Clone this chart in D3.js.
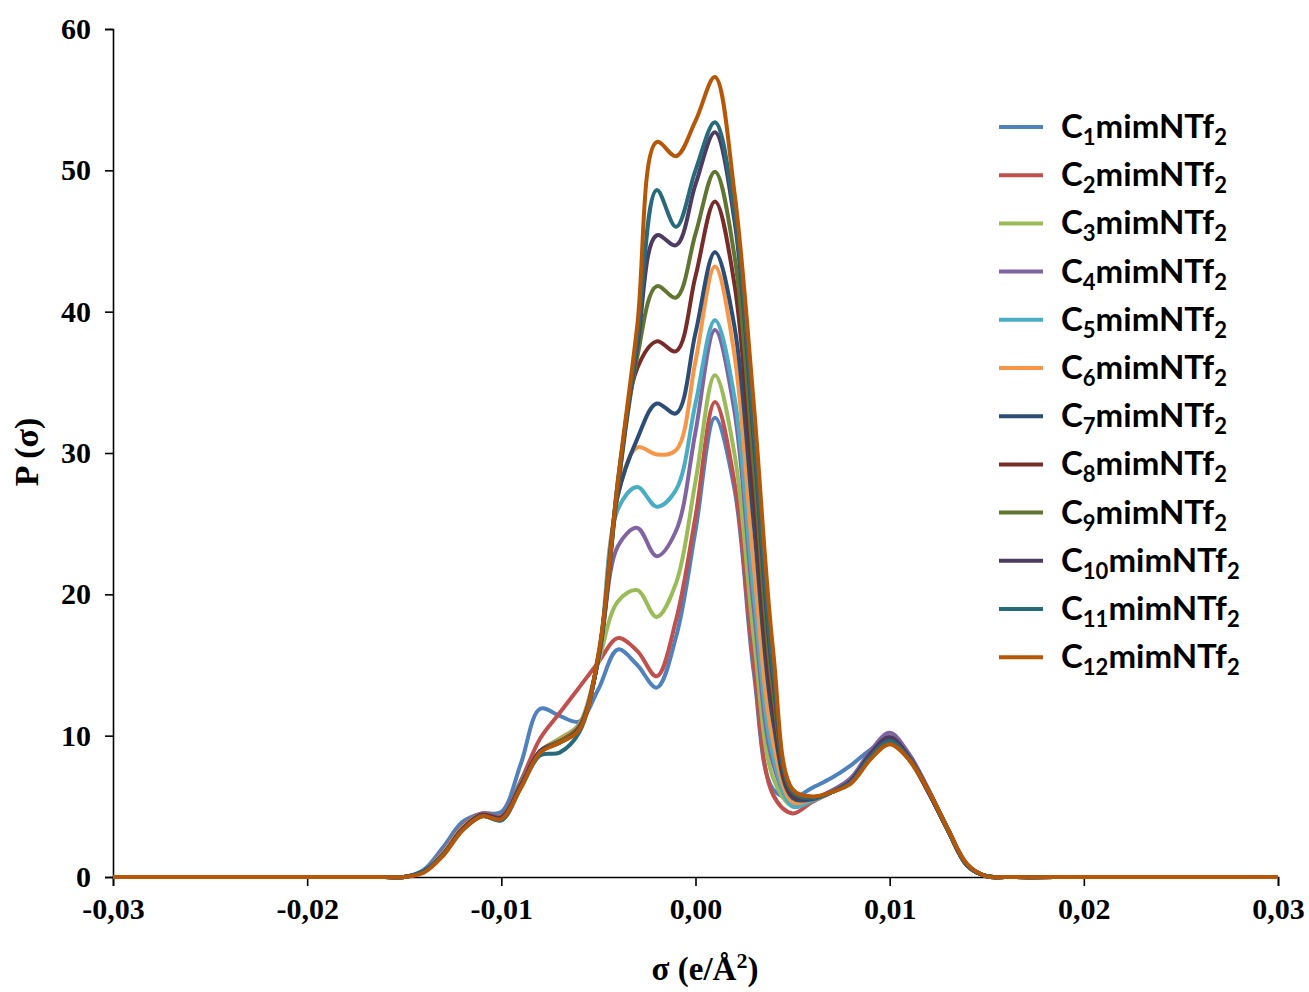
<!doctype html>
<html>
<head>
<meta charset="utf-8">
<title>Sigma profiles</title>
<script src="https://cdn.jsdelivr.net/npm/d3@7"></script>
<style>
  body { margin: 0; background: #fff; }
</style>
</head>
<body>
<script>

    // sigma grid (e/Å²)
    var sigma = [-0.03, -0.025, -0.02, -0.016,
        -0.015, -0.014, -0.013, -0.012, -0.011, -0.010, -0.009, -0.008, -0.007, -0.006,
        -0.005, -0.004, -0.003, -0.002, -0.001, 0.000, 0.001, 0.002, 0.003, 0.004,
        0.005, 0.006, 0.007, 0.008, 0.009, 0.010, 0.011, 0.012, 0.013, 0.014, 0.015,
        0.016, 0.02, 0.025, 0.03];

    var c1  = [0, 0, 0, 0, 0, 0.5, 2.1, 3.9, 4.5, 4.6, 8.0, 11.9, 11.4, 11.0, 13.3, 16.1, 15.0, 13.4, 17.0, 24.5, 32.5, 27.5, 14.5, 6.2, 5.6, 6.3, 7.0, 7.9, 9.0, 9.8, 8.4, 6.1, 3.3, 0.8, 0.05, 0, 0, 0, 0];
    var c2  = [0, 0, 0, 0, 0, 0.4, 1.8, 3.6, 4.5, 4.3, 6.8, 9.8, 11.6, 13.4, 15.2, 16.9, 16.0, 14.2, 18.2, 25.5, 33.6, 28.0, 15.0, 5.8, 4.5, 5.3, 6.0, 6.8, 8.6, 9.6, 8.3, 6.0, 3.3, 0.8, 0.05, 0, 0, 0, 0];
    var c3  = [0, 0, 0, 0, 0, 0.4, 1.7, 3.5, 4.4, 4.2, 6.6, 8.9, 9.8, 10.8, 15.2, 19.5, 20.3, 18.4, 20.8, 28.0, 35.5, 30.0, 17.0, 7.0, 5.0, 5.4, 6.0, 6.8, 8.6, 9.7, 8.3, 6.0, 3.3, 0.8, 0.05, 0, 0, 0, 0];
    var c4  = [0, 0, 0, 0, 0, 0.4, 1.7, 3.5, 4.4, 4.2, 6.6, 8.9, 9.7, 10.7, 15.4, 23.4, 24.7, 22.7, 24.5, 31.5, 38.7, 33.0, 19.0, 8.0, 5.2, 5.5, 6.1, 7.0, 8.9, 10.2, 8.7, 6.2, 3.4, 0.9, 0.05, 0, 0, 0, 0];
    var c5  = [0, 0, 0, 0, 0, 0.4, 1.7, 3.5, 4.4, 4.2, 6.6, 8.9, 9.7, 10.7, 15.5, 26.0, 27.6, 26.2, 27.4, 33.5, 39.4, 34.0, 20.0, 8.5, 5.0, 5.4, 6.0, 6.8, 8.6, 9.7, 8.3, 6.0, 3.3, 0.8, 0.05, 0, 0, 0, 0];
    var c6  = [0, 0, 0, 0, 0, 0.4, 1.7, 3.5, 4.4, 4.2, 6.5, 8.9, 9.7, 10.7, 15.5, 27.0, 30.4, 29.9, 30.2, 36.5, 43.2, 37.0, 22.0, 9.5, 5.3, 5.5, 6.0, 6.8, 8.6, 9.6, 8.3, 6.0, 3.3, 0.8, 0.05, 0, 0, 0, 0];
    var c7  = [0, 0, 0, 0, 0, 0.4, 1.6, 3.4, 4.4, 4.2, 6.5, 8.9, 9.6, 10.6, 15.5, 27.0, 31.0, 33.5, 32.8, 38.5, 44.2, 39.0, 25.0, 11.0, 5.6, 5.5, 6.0, 6.8, 8.6, 9.7, 8.4, 6.0, 3.3, 0.8, 0.05, 0, 0, 0, 0];
    var c8  = [0, 0, 0, 0, 0, 0.4, 1.6, 3.4, 4.4, 4.2, 6.5, 8.9, 9.6, 10.6, 15.5, 27.5, 36.0, 37.9, 37.2, 42.5, 47.8, 42.0, 27.0, 12.0, 5.8, 5.6, 6.0, 6.8, 8.6, 9.7, 8.4, 6.0, 3.3, 0.8, 0.05, 0, 0, 0, 0];
    var c9  = [0, 0, 0, 0, 0, 0.4, 1.6, 3.4, 4.3, 4.1, 6.4, 8.9, 9.6, 10.6, 15.5, 27.5, 36.8, 41.8, 41.0, 45.5, 49.9, 44.0, 29.0, 13.0, 6.0, 5.6, 6.0, 6.7, 8.5, 9.6, 8.4, 6.1, 3.3, 0.8, 0.05, 0, 0, 0, 0];
    var c10 = [0, 0, 0, 0, 0, 0.4, 1.6, 3.4, 4.4, 4.2, 6.4, 8.9, 9.5, 10.5, 15.6, 27.8, 37.5, 45.4, 44.7, 49.0, 52.7, 46.5, 31.0, 14.0, 6.0, 5.6, 6.0, 6.8, 8.7, 9.9, 8.5, 6.1, 3.4, 0.8, 0.05, 0, 0, 0, 0];
    var c11 = [0, 0, 0, 0, 0, 0.4, 1.6, 3.3, 4.3, 4.0, 6.3, 8.6, 8.8, 10.2, 15.6, 28.0, 38.0, 48.6, 46.0, 50.0, 53.4, 47.0, 31.5, 14.5, 6.0, 5.6, 6.0, 6.7, 8.5, 9.6, 8.4, 6.1, 3.4, 0.8, 0.05, 0, 0, 0, 0];
    var c12 = [0, 0, 0, 0, 0, 0.3, 1.5, 3.3, 4.3, 4.1, 6.3, 8.8, 9.5, 10.4, 15.8, 28.0, 39.0, 52.0, 51.0, 53.5, 56.6, 48.5, 33.5, 16.0, 6.2, 5.7, 6.0, 6.6, 8.3, 9.4, 8.3, 6.1, 3.4, 0.9, 0.05, 0, 0, 0, 0];

    var seriesValues = [c1, c2, c3, c4, c5, c6, c7, c8, c9, c10, c11, c12];
    var seriesNums = ["1", "2", "3", "4", "5", "6", "7", "8", "9", "10", "11", "12"];
    var colors = ["#4F81BD", "#C0504D", "#9BBB59", "#8064A2", "#4BACC6", "#F79646",
                  "#2C4D75", "#772C2A", "#5F7530", "#4D3B62", "#276A7C", "#B65708"];

    var xTicks = [-0.03, -0.02, -0.01, 0, 0.01, 0.02, 0.03];
    var yTicks = [0, 10, 20, 30, 40, 50, 60];

    var width = 1309, height = 992;
    var plotLeft = 113, plotRight = 1278, plotTop = 29, plotBottom = 877;

    var svg = d3.select("body").append("svg")
        .attr("width", width)
        .attr("height", height);

    var x = d3.scaleLinear().domain([-0.03, 0.03]).range([plotLeft, plotRight]);
    var y = d3.scaleLinear().domain([0, 60]).range([plotBottom, plotTop]);

    var tickFont = "'Liberation Serif', 'Times New Roman', serif";

    // axes
    var xAxis = svg.append("g")
        .attr("transform", "translate(0," + plotBottom + ")")
        .call(d3.axisBottom(x).tickValues(xTicks).tickSizeOuter(0).tickSize(9).tickPadding(12)
            .tickFormat(function(d) { return d3.format(".2f")(d).replace(".", ",").replace("−", "-"); }));

    var yAxis = svg.append("g")
        .attr("transform", "translate(" + plotLeft + ",0)")
        .call(d3.axisLeft(y).tickValues(yTicks).tickSizeOuter(0).tickSize(8).tickPadding(14));

    [xAxis, yAxis].forEach(function(g) {
        g.select(".domain").attr("stroke", "#000").attr("stroke-width", 1.6);
        g.selectAll(".tick line").attr("stroke", "#000").attr("stroke-width", 1.6);
        g.selectAll(".tick text")
            .attr("fill", "#000")
            .attr("font-family", tickFont)
            .attr("font-weight", "bold")
            .attr("font-size", "30px");
    });

    // axis titles
    var xTitle = svg.append("text")
        .attr("x", 705)
        .attr("y", 980)
        .attr("text-anchor", "middle")
        .attr("font-family", tickFont)
        .attr("font-weight", "bold")
        .attr("font-size", "33px");
    xTitle.append("tspan").text("σ (e/Å");
    xTitle.append("tspan").attr("dy", -12).attr("font-size", "22px").text("2");
    xTitle.append("tspan").attr("dy", 12).text(")");

    svg.append("text")
        .attr("transform", "translate(38,452) rotate(-90)")
        .attr("text-anchor", "middle")
        .attr("font-family", tickFont)
        .attr("font-weight", "bold")
        .attr("font-size", "34px")
        .text("P (σ)");

    // curves
    var line = d3.line()
        .x(function(d, i) { return x(sigma[i]); })
        .y(function(d) { return y(d); })
        .curve(d3.curveCatmullRom.alpha(0.5));

    svg.append("g").selectAll("path")
        .data(seriesValues)
        .join("path")
        .attr("d", line)
        .attr("fill", "none")
        .attr("stroke", function(d, i) { return colors[i]; })
        .attr("stroke-width", 4)
        .attr("stroke-linejoin", "round");

    // legend
    var legendFont = "Lato, 'Open Sans', sans-serif";
    var legend = svg.append("g");
    seriesNums.forEach(function(n, i) {
        var ly = 127 + i * 48.2;
        legend.append("line")
            .attr("x1", 999).attr("x2", 1043)
            .attr("y1", ly).attr("y2", ly)
            .attr("stroke", colors[i])
            .attr("stroke-width", 4);
        var t = legend.append("text")
            .attr("x", 1061)
            .attr("y", ly + 11)
            .attr("font-family", legendFont)
            .attr("font-weight", "bold")
            .attr("font-size", "33px")
            .attr("fill", "#000");
        t.append("tspan").text("C");
        t.append("tspan").attr("dy", 7).attr("font-size", "22px").text(n);
        t.append("tspan").attr("dy", -7).text("mimNTf");
        t.append("tspan").attr("dy", 7).attr("font-size", "22px").text("2");
    });

</script>
</body>
</html>
